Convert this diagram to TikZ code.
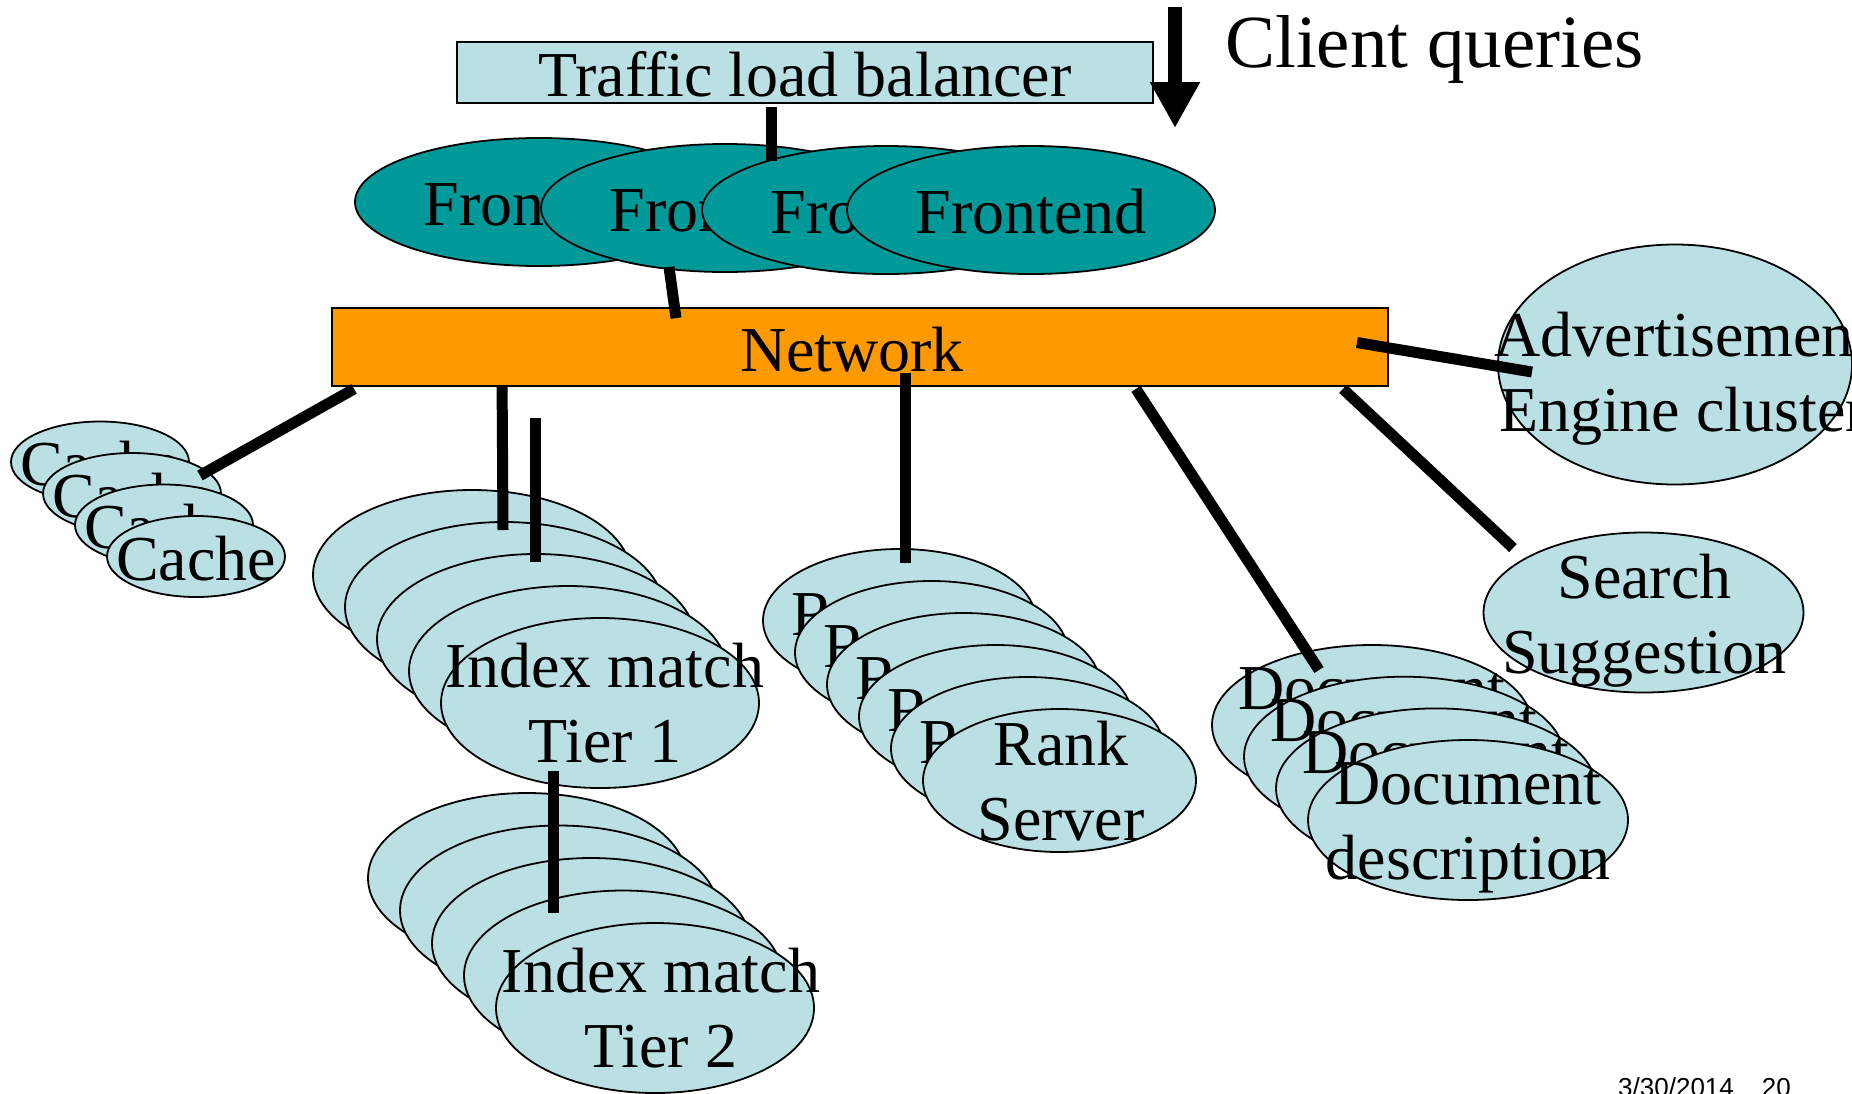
\documentclass[tikz,border=0pt]{standalone}
\usepackage{fontspec}
\setmainfont{Liberation Serif}[Ligatures={TeX,NoCommon}]
\newfontfamily\footerfont{Liberation Sans}
\usetikzlibrary{shapes.geometric,arrows.meta,calc}
\definecolor{paleblue}{RGB}{187,224,227}
\definecolor{frontteal}{RGB}{0,153,153}
\definecolor{netorange}{RGB}{255,153,0}

\begin{document}
\begin{tikzpicture}[x=1pt,y=-1pt,
  txt/.style={font=\fontsize{64}{75}\selectfont, align=center, inner sep=0pt},
  ell/.style={ellipse, draw=black, line width=1.8pt, inner sep=0pt, fill=paleblue},
  box/.style={rectangle, draw=black, line width=1.8pt, inner sep=0pt},
  wire/.style={line width=11pt, line cap=butt}
]
\useasboundingbox (0,0) rectangle (1852,1093);

% load balancer and network bus
\node[box, fill=paleblue, minimum width=696pt, minimum height=61pt] (lb) at (805,72.5) {};
\node[txt] (lbtxt) at (805,74) {Traffic load balancer};
\node[box, fill=netorange, minimum width=1056pt, minimum height=78pt] (net) at (860,347) {};
\node[txt] (nettxt) at (852,350) {Network};

% frontend servers
\foreach \i/\x/\y in {1/539/202, 2/725/208, 3/886/210, 4/1031/210} {
  \node[ell, fill=frontteal, minimum width=368pt, minimum height=128pt] (fe\i) at (\x,\y) {};
  \node[txt] (fetxt\i) at ({\x},{\y+2}) {Frontend};
}

% advertisement engine
\node[ell, minimum width=354pt, minimum height=240pt] (ad) at (1675,364.5) {};
\node[txt] (adtxt) at (1683,378.5) {Advertisement\\Engine cluster};

% cache servers
\foreach \k in {0,...,3} {
  \node[ell, minimum width=178pt, minimum height=81pt] (cache\k) at ({100+32*\k},{462+31.5*\k}) {};
  \node[txt] (cachetxt\k) at ({100+32*\k},{464+31.5*\k}) {Cache};
}

% index match, tier 1
\foreach \k in {0,...,4} {
  \node[ell, minimum width=318pt, minimum height=170pt] (tierA\k) at ({472+32*\k},{575+32*\k}) {};
}
\node[txt] (tierAtxt) at (605,703.5) {Index match\\Tier 1};

% index match, tier 2
\foreach \k in {0,...,4} {
  \node[ell, minimum width=318pt, minimum height=170pt] (tierB\k) at ({527+32*\k},{878+32.5*\k}) {};
}
\node[txt] (tierBtxt) at (661,1008) {Index match\\Tier 2};

% rank servers
\foreach \k in {0,...,4} {
  \node[ell, minimum width=273pt, minimum height=143pt] (rank\k) at ({899.5+32*\k},{620.5+32*\k}) {};
  \node[txt] (ranktxt\k) at ({899.5+32*\k},{620.5+32*\k}) {Ranking};
}
\node[ell, minimum width=273pt, minimum height=143pt] (rank5) at (1059.5,780.5) {};
\node[txt] (ranktxt5) at (1061,781) {Rank\\Server};

% document description servers
\foreach \k in {0,...,2} {
  \node[ell, minimum width=320pt, minimum height=160pt] (doc\k) at ({1372+32*\k},{725+31.7*\k}) {};
  \node[txt] (doctxt\k) at ({1372+32*\k},{689+31.7*\k}) {Document};
}
\node[ell, minimum width=320pt, minimum height=160pt] (doc3) at (1468,820) {};
\node[txt] (doctxt3) at (1468,827.5) {Document\\description};

% search suggestion
\node[ell, minimum width=320pt, minimum height=160pt] (search) at (1643.5,612.5) {};
\node[txt] (searchtxt) at (1644.5,621) {Search\\Suggestion};

% links
\coordinate (spur) at (535,418);
\draw[wire] ($(lb.south)+(-34,3)$) -- ($(fe2.center)+(46,-47)$);
\draw[wire] ($(fe2.center)+(-56,59)$) -- ($(net.north)+(-184,11)$);
\draw[wire] ($(net.south west)+(23,2)$) -- ($(cache1.center)+(68,-18)$);
\draw[wire] ($(net.south west)+(171,0)$) -- ($(tierA1.center)+(-1,-77)$);
\draw[wire] (spur) -- ($(tierA2.center)+(-1,-77)$);
\draw[wire] ($(tierA4.center)+(-47,68)$) -- ($(tierB2.center)+(-38,-30)$);
\draw[wire] ($(net.center)+(45,26)$) -- ($(rank0.center)+(5.5,-57.5)$);
\draw[wire] ($(net.south)+(276,2)$) -- ($(doc0.center)+(-53,-55)$);
\draw[wire] ($(net.south east)+(-46,2)$) -- ($(search.center)+(-130.5,-64.5)$);
\draw[wire] ($(net.east)+(-32,-4.5)$) -- ($(ad.center)+(-143,7.5)$);

% incoming queries
\coordinate (qtop) at (1175,7);
\coordinate (qtip) at (1175,128);
\draw[line width=14pt, -{Triangle[length=46pt,width=47pt]}] (qtop) -- (qtip);
\node[anchor=base west, font=\fontsize{75}{90}\selectfont, inner sep=0pt] (cq) at (1225,67) {Client queries};

% footer
\node[anchor=base west, font=\footerfont\fontsize{26}{31}\selectfont, inner sep=0pt] (date) at (1618,1096) {3/30/2014\hspace{28pt}20};
\end{tikzpicture}
\end{document}
